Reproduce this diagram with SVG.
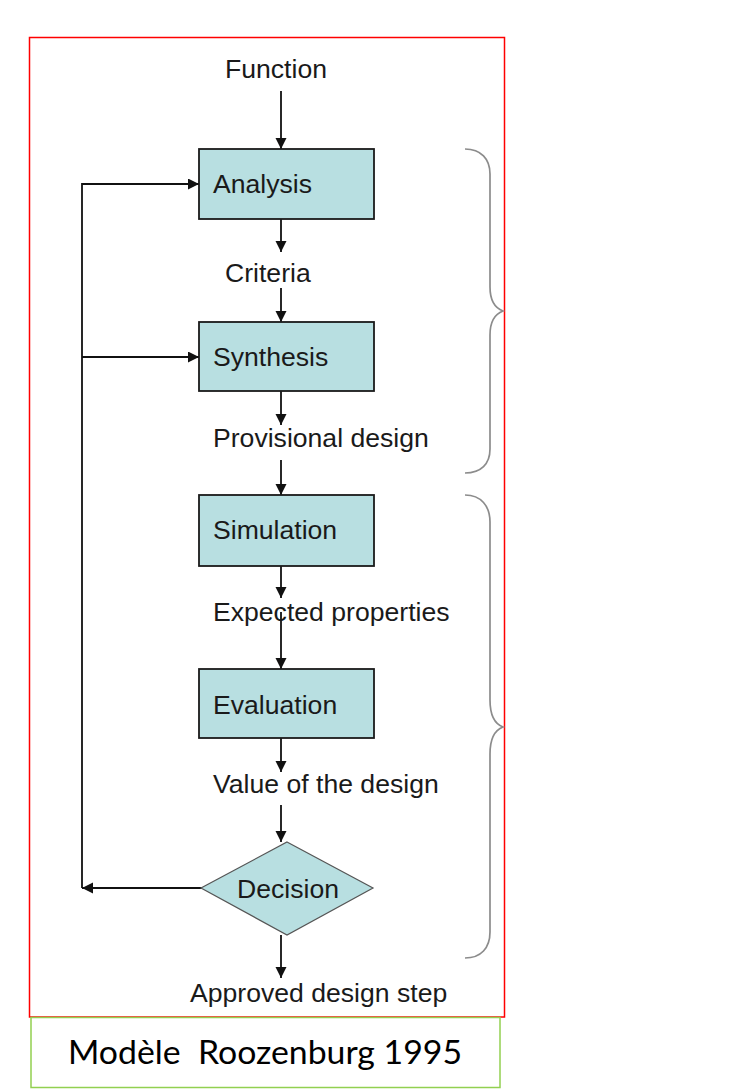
<svg xmlns="http://www.w3.org/2000/svg" width="737" height="1090" viewBox="0 0 737 1090">
<style>
  .box { fill: #b8dfe1; stroke: #1a1a1a; stroke-width: 1.8; }
  .lbl { font-family: "Liberation Sans", Arial, sans-serif; font-size: 26.6px; fill: #1a1a1a; }
  .conn { fill: none; stroke: #111; stroke-width: 1.8; }
  .brace { fill: none; stroke: #8c8c8c; stroke-width: 1.7; }
  .cap { font-family: Lato, "Liberation Sans", sans-serif; font-size: 33px; fill: #000; }
</style>
<defs>
  <marker id="arr" markerUnits="userSpaceOnUse" markerWidth="12" markerHeight="12" refX="11" refY="5.5" orient="auto">
    <path d="M0,0 L11,5.5 L0,11 z" fill="#111"/>
  </marker>
</defs>
<rect x="0" y="0" width="737" height="1090" fill="#fff"/>
<rect id="frame" x="29.5" y="37.5" width="475" height="979.5" fill="none" stroke="#ff0000" stroke-width="1.5"/>

<g id="connectors">
  <line class="conn" x1="281" y1="91" x2="281" y2="149" marker-end="url(#arr)"/>
  <line class="conn" x1="281" y1="219" x2="281" y2="252" marker-end="url(#arr)"/>
  <line class="conn" x1="281" y1="288" x2="281" y2="322" marker-end="url(#arr)"/>
  <line class="conn" x1="281" y1="391" x2="281" y2="425" marker-end="url(#arr)"/>
  <line class="conn" x1="281" y1="460" x2="281" y2="495" marker-end="url(#arr)"/>
  <line class="conn" x1="281" y1="566" x2="281" y2="598" marker-end="url(#arr)"/>
  <line class="conn" x1="281" y1="612" x2="281" y2="669" marker-end="url(#arr)"/>
  <line class="conn" x1="281" y1="738" x2="281" y2="772" marker-end="url(#arr)"/>
  <line class="conn" x1="281" y1="805" x2="281" y2="842" marker-end="url(#arr)"/>
  <line class="conn" x1="281" y1="935" x2="281" y2="978" marker-end="url(#arr)"/>
  <line class="conn" x1="202" y1="888" x2="82" y2="888" marker-end="url(#arr)"/>
  <polyline class="conn" points="82,888 82,184 199,184" marker-end="url(#arr)"/>
  <line class="conn" x1="82" y1="357" x2="199" y2="357" marker-end="url(#arr)"/>
</g>

<g id="braces">
  <path class="brace" d="M465,149 C481,149 490,159 490,174 L490,287 C490,300 495,308 503,311 C495,314 490,322 490,335 L490,449 C490,464 481,473 465,473"/>
  <path class="brace" d="M465,495 C481,495 490,506 490,522 L490,700 C490,715 495,724 503,727 C495,730 490,739 490,754 L490,932 C490,948 481,958 465,958"/>
</g>

<g id="function"><text class="lbl" x="225" y="78">Function</text></g>
<g id="analysis">
  <rect class="box" x="199" y="149" width="175" height="70"/>
  <text class="lbl" x="213" y="193">Analysis</text>
</g>
<g id="criteria"><text class="lbl" x="225" y="282">Criteria</text></g>
<g id="synthesis">
  <rect class="box" x="199" y="322" width="175" height="69"/>
  <text class="lbl" x="213" y="366">Synthesis</text>
</g>
<g id="provisional"><text class="lbl" x="213" y="447">Provisional design</text></g>
<g id="simulation">
  <rect class="box" x="199" y="495" width="175" height="71"/>
  <text class="lbl" x="213" y="539">Simulation</text>
</g>
<g id="expected"><text class="lbl" x="213" y="621">Expected properties</text></g>
<g id="evaluation">
  <rect class="box" x="199" y="669" width="175" height="69"/>
  <text class="lbl" x="213" y="714">Evaluation</text>
</g>
<g id="value"><text class="lbl" x="213" y="793">Value of the design</text></g>
<g id="decision">
  <polygon class="box" points="287,842 373,888 287,935 201,888" style="stroke:#555;stroke-width:1.2"/>
  <text class="lbl" x="237" y="898">Decision</text>
</g>
<g id="approved"><text class="lbl" x="190" y="1002">Approved design step</text></g>

<g id="caption">
  <rect x="31" y="1017.5" width="469" height="70" fill="#fff" stroke="#92d050" stroke-width="1.5"/>
  <text class="cap" x="68" y="1064" textLength="394" lengthAdjust="spacingAndGlyphs" xml:space="preserve">Modèle  Roozenburg 1995</text>
</g>
</svg>
